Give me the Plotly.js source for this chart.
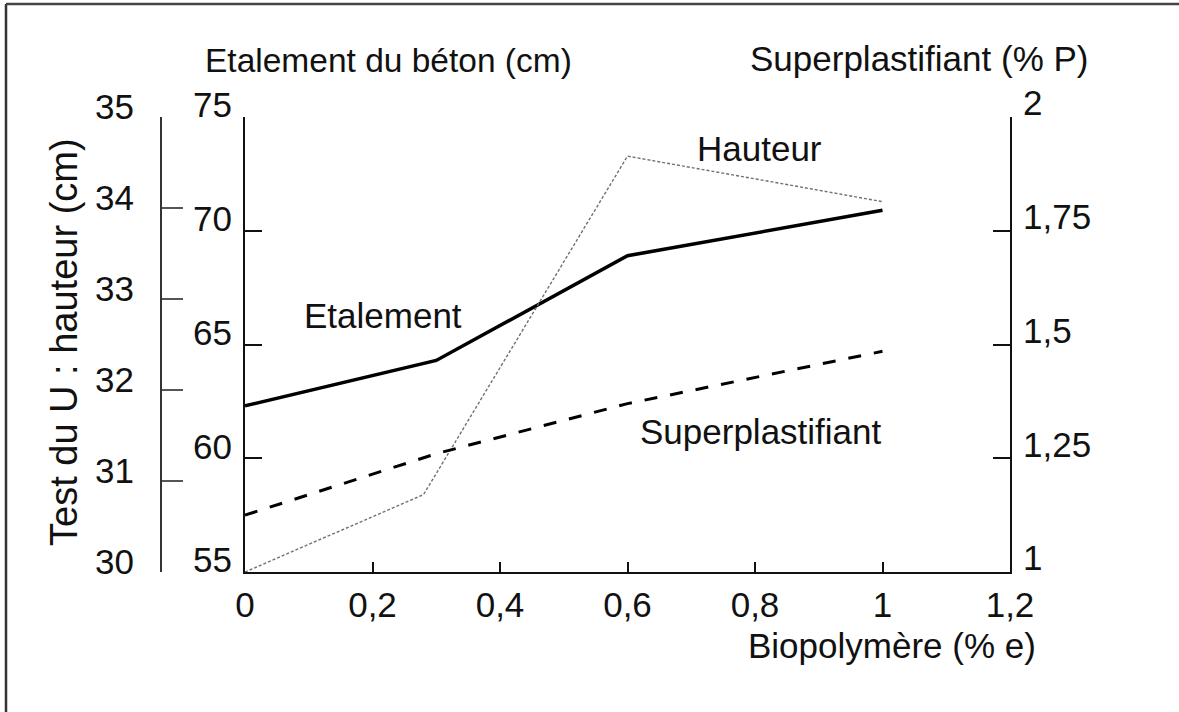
<!DOCTYPE html>
<html>
<head>
<meta charset="utf-8">
<script src="https://cdn.plot.ly/plotly-3.0.1.min.js"></script>
<style>html,body{margin:0;padding:0;background:#fff;}#chart{width:1179px;height:712px;}</style>
</head>
<body>
<div id="chart"></div>
<script>
// Data
const biopolymere = [0, 0.3, 0.6, 1];
const etalement = [62.3, 64.3, 68.9, 70.9];
const superplastifiant = [1.125, 1.26, 1.37, 1.485];
const hauteurX = [0, 0.28, 0.6, 1];
const hauteur = [30.0, 30.85, 34.57, 34.07];

const xTickVals = [0, 0.2, 0.4, 0.6, 0.8, 1, 1.2];
const xTickText = ["0", "0,2", "0,4", "0,6", "0,8", "1", "1,2"];
const etalTickVals = [55, 60, 65, 70, 75];
const hautTickVals = [30, 31, 32, 33, 34, 35];
const spTickVals = [1, 1.25, 1.5, 1.75, 2];
const spTickText = ["1", "1,25", "1,5", "1,75", "2"];

const FONT = "Liberation Sans, Arial, Helvetica, sans-serif";
const FS = 35;

// pixel -> paper helpers (figure 1179x712, margins l=20 r=20 t=117 b=140)
const W = 1179, H = 712, ML = 20, MR = 20, MT = 117, MB = 140;
const PW = W - ML - MR, PH = H - MT - MB;
const px = x => (x - ML) / PW;
const py = y => (H - MB - y) / PH;

const traces = [
  { x: biopolymere, y: etalement, type: "scatter", mode: "lines", name: "Etalement",
    xaxis: "x", yaxis: "y", line: { color: "#000", width: 3.5 } },
  { x: hauteurX, y: hauteur, type: "scatter", mode: "lines", name: "Hauteur",
    xaxis: "x", yaxis: "y2", line: { color: "#707070", width: 1.4, dash: "3px,2px" } },
  { x: biopolymere, y: superplastifiant, type: "scatter", mode: "lines", name: "Superplastifiant",
    xaxis: "x", yaxis: "y3", line: { color: "#000", width: 3, dash: "13px,13px" } }
];

const axBase = {
  showgrid: false, zeroline: false, showline: true, linecolor: "#111", linewidth: 2,
  ticks: "inside", tickcolor: "#111", tickwidth: 2,
  tickfont: { family: FONT, size: FS, color: "#111" }
};

const layout = {
  width: W, height: H,
  margin: { l: ML, r: MR, t: MT, b: MB, pad: 0 },
  paper_bgcolor: "#fff", plot_bgcolor: "rgba(0,0,0,0)",
  showlegend: false,
  font: { family: FONT, size: FS, color: "#111" },
  xaxis: Object.assign({}, axBase, {
    domain: [px(245), px(1010)], range: [0, 1.2], tickmode: "array",
    tickvals: xTickVals, ticktext: xTickText, ticklen: 10, ticklabelstandoff: 1
  }),
  yaxis: Object.assign({}, axBase, {
    domain: [0, 1], range: [55, 75], anchor: "x", side: "left",
    tickmode: "array", tickvals: etalTickVals, ticklen: 17,
    ticklabelposition: "outside", ticklabelshift: -12, ticklabelstandoff: 4
  }),
  yaxis2: Object.assign({}, axBase, {
    domain: [0, 1], range: [30, 35], overlaying: "y", anchor: "free", position: px(161), side: "left",
    tickmode: "array", tickvals: hautTickVals, ticklen: 21, tickwidth: 1.5, tickcolor: "#555",
    linecolor: "#333", linewidth: 2,
    ticklabelposition: "outside", ticklabelshift: -10, ticklabelstandoff: 19
  }),
  yaxis3: Object.assign({}, axBase, {
    domain: [0, 1], range: [1, 2], overlaying: "y", anchor: "x", side: "right",
    tickmode: "array", tickvals: spTickVals, ticktext: spTickText, ticklen: 17,
    ticklabelposition: "outside", ticklabelshift: -14, ticklabelstandoff: 4
  }),
  shapes: [
    { type: "line", xref: "paper", yref: "paper", x0: px(6), x1: px(6), y0: py(4), y1: py(720),
      line: { color: "#333", width: 2.5 } },
    { type: "line", xref: "paper", yref: "paper", x0: px(6), x1: px(1190), y0: py(4), y1: py(4),
      line: { color: "#444", width: 2.5 } }
  ],
  annotations: [
    { text: "Etalement du béton (cm)", xref: "paper", yref: "paper", x: px(203), y: py(60),
      xanchor: "left", yanchor: "middle", showarrow: false, font: { family: FONT, size: 33.5, color: "#111" } },
    { text: "Superplastifiant (% P)", xref: "paper", yref: "paper", x: px(1090), y: py(58),
      xanchor: "right", yanchor: "middle", showarrow: false, font: { family: FONT, size: FS, color: "#111" } },
    { text: "Test du U : hauteur (cm)", xref: "paper", yref: "paper", x: px(64), y: py(342),
      xanchor: "center", yanchor: "middle", textangle: -90, showarrow: false, font: { family: FONT, size: 38, color: "#111" } },
    { text: "Biopolymère (% e)", xref: "paper", yref: "paper", x: px(1038), y: py(645),
      xanchor: "right", yanchor: "middle", showarrow: false, font: { family: FONT, size: FS, color: "#111" } },
    { text: "Hauteur", xref: "paper", yref: "paper", x: px(695), y: py(148),
      xanchor: "left", yanchor: "middle", showarrow: false, font: { family: FONT, size: FS, color: "#111" } },
    { text: "Etalement", xref: "paper", yref: "paper", x: px(302), y: py(315),
      xanchor: "left", yanchor: "middle", showarrow: false, font: { family: FONT, size: FS, color: "#111" } },
    { text: "Superplastifiant", xref: "paper", yref: "paper", x: px(638), y: py(431),
      xanchor: "left", yanchor: "middle", showarrow: false, font: { family: FONT, size: FS, color: "#111" } }
  ]
};

Plotly.newPlot("chart", traces, layout, { staticPlot: true, displayModeBar: false });
</script>
</body>
</html>
